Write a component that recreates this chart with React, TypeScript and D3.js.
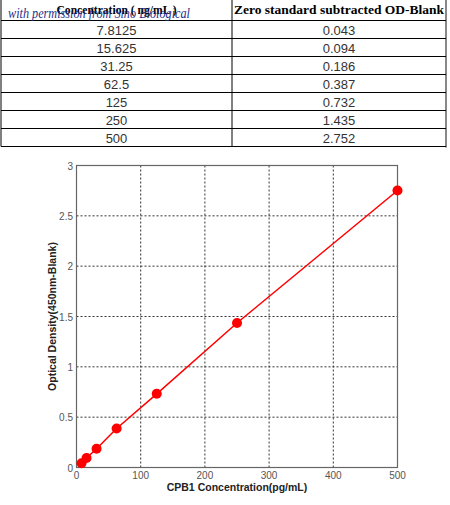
import React from "react";
import * as d3 from "d3";

const concLabels = ["7.8125", "15.625", "31.25", "62.5", "125", "250", "500"];
const concValues = [7.8125, 15.625, 31.25, 62.5, 125, 250, 500];
const odValues = [0.043, 0.094, 0.186, 0.387, 0.732, 1.435, 2.752];
const odLabels = ["0.043", "0.094", "0.186", "0.387", "0.732", "1.435", "2.752"];
const xTicks = [0, 100, 200, 300, 400, 500];
const yTicks = [0, 0.5, 1, 1.5, 2, 2.5, 3];
const headers = ["Concentration ( ng/mL )", "Zero standard subtracted OD-Blank"];

export default function App() {
  const W = 450, H = 505;
  const tLeft = 1, tMid = 232, tRight = 446, tHeadH = 20.5, rowH = 18;
  const x = d3.scaleLinear().domain([0, 500]).range([76.5, 397.5]);
  const y = d3.scaleLinear().domain([0, 3]).range([467.5, 165.5]);
  const line = d3.line<number>().x((d, i) => x(concValues[i])).y((d) => y(d));
  const tableBottom = tHeadH + rowH * concLabels.length;
  return (
    <svg width={W} height={H} style={{ position: "absolute", left: 0, top: 0, background: "#fff" }}>
      {/* table */}
      <g>
        <line x1={tLeft} x2={tLeft} y1={0} y2={tableBottom} stroke="#000" />
        <line x1={tMid} x2={tMid} y1={0} y2={tableBottom} stroke="#000" />
        <line x1={tRight} x2={tRight} y1={0} y2={tableBottom + 1} stroke="#888" strokeWidth={2} />
        <line x1={tLeft} x2={tRight} y1={tHeadH} y2={tHeadH} stroke="#000" />
        {concLabels.map((c, i) => (
          <line key={"h" + i} x1={tLeft} x2={tRight} y1={tHeadH + rowH * (i + 1)} y2={tHeadH + rowH * (i + 1)} stroke="#000" />
        ))}
        <text x={(tLeft + tMid) / 2} y={14} textAnchor="middle" fontFamily="'Liberation Serif', serif" fontWeight="bold" fontSize={13} fill="#000" textLength={120} lengthAdjust="spacingAndGlyphs">{headers[0]}</text>
        <text x={(tMid + tRight) / 2} y={14} textAnchor="middle" fontFamily="'Liberation Serif', serif" fontWeight="bold" fontSize={13.5} fill="#000">{headers[1]}</text>
        <text x={8} y={18} fontFamily="'Liberation Serif', serif" fontStyle="italic" fontSize={14} fill="#1c2f8a" textLength={182} lengthAdjust="spacingAndGlyphs">with permission from Sino Biological</text>
        {concLabels.map((c, i) => (
          <g key={"r" + i}>
            <text x={(tLeft + tMid) / 2} y={tHeadH + rowH * i + 14} textAnchor="middle" fontFamily="'Liberation Sans', Arial, sans-serif" fontSize={13} fill="#333">{c}</text>
            <text x={(tMid + tRight) / 2} y={tHeadH + rowH * i + 14} textAnchor="middle" fontFamily="'Liberation Sans', Arial, sans-serif" fontSize={13} fill="#333">{odLabels[i]}</text>
          </g>
        ))}
      </g>
      {/* chart grid */}
      <g>
        {xTicks.slice(1, -1).map((t) => (
          <line key={"gx" + t} x1={x(t)} x2={x(t)} y1={y(3)} y2={y(0)} stroke="#333" strokeDasharray="2,2" />
        ))}
        {yTicks.slice(1, -1).map((t) => (
          <line key={"gy" + t} x1={x(0)} x2={x(500)} y1={y(t)} y2={y(t)} stroke="#333" strokeDasharray="2,2" />
        ))}
        <rect x={x(0)} y={y(3)} width={x(500) - x(0)} height={y(0) - y(3)} fill="none" stroke="#666" strokeWidth={1.2} />
      </g>
      {/* tick labels */}
      <g fontFamily="'Liberation Sans', Arial, sans-serif" fontSize={10} fill="#555">
        {yTicks.map((t) => (
          <text key={"yl" + t} x={x(0) - 3.5} y={y(t) + 4} textAnchor="end">{String(t)}</text>
        ))}
        {xTicks.map((t) => (
          <text key={"xl" + t} x={x(t)} y={y(0) + 11} textAnchor="middle">{String(t)}</text>
        ))}
      </g>
      <text x={(x(0) + x(500)) / 2} y={491} textAnchor="middle" fontFamily="'Liberation Sans', Arial, sans-serif" fontWeight="bold" fontSize={10.5} fill="#222">CPB1 Concentration(pg/mL)</text>
      <text transform={`translate(56,${(y(0) + y(3)) / 2}) rotate(-90)`} textAnchor="middle" fontFamily="'Liberation Sans', Arial, sans-serif" fontWeight="bold" fontSize={10.5} fill="#222">Optical Density(450nm-Blank)</text>
      {/* data */}
      <path d={line(odValues) || ""} fill="none" stroke="#ff0000" strokeWidth={1.5} />
      {odValues.map((v, i) => (
        <circle key={"p" + i} cx={x(concValues[i])} cy={y(v)} r={5} fill="#ff0000" />
      ))}
    </svg>
  );
}
